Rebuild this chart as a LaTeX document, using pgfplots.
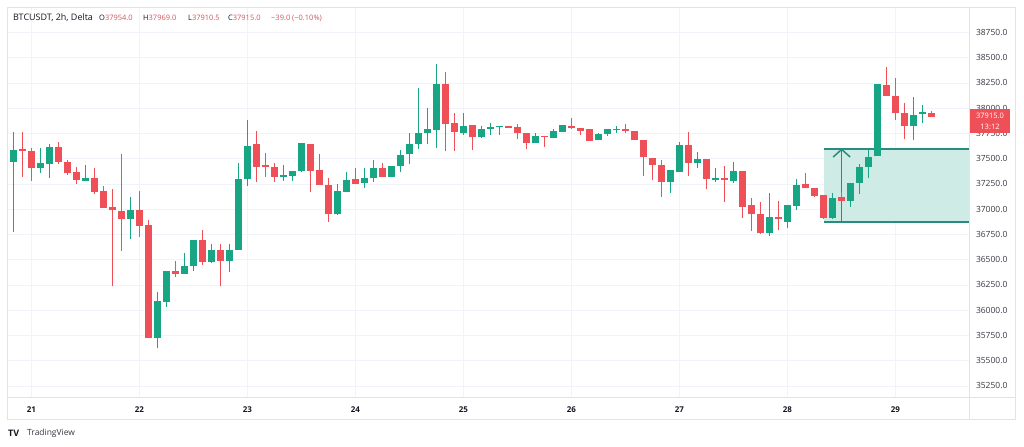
\documentclass[border=0pt]{standalone}
\usepackage{pgfplots}
\pgfplotsset{compat=1.18}
\usepackage{pgfplotstable}
\usepackage{fontspec}
\setmainfont{Open Sans}
\definecolor{tvgreen}{HTML}{17A584}
\definecolor{tvred}{HTML}{EF5058}
\definecolor{tvtext}{HTML}{131722}
\definecolor{tvframe}{HTML}{E0E3EB}
\definecolor{tvgrid}{HTML}{F0F3FA}
\definecolor{rngfill}{HTML}{CFEBE5}
\definecolor{rngline}{HTML}{2A8C7E}
\definecolor{hdrred}{HTML}{D0555B}

% up (green) candles: index open high low close
\pgfplotstableread{
i o h l c
0 37464 37768 36778 37586
3 37405 37610 37362 37454
4 37444 37646 37306 37616
8 37280 37435 37280 37312
13 36903 37121 36705 36989
16 35725 36177 35623 36092
17 36085 36385 36035 36385
19 36359 36563 36359 36441
20 36441 36699 36392 36699
22 36481 36656 36464 36600
24 36487 36656 36375 36600
25 36593 37454 36593 37299
26 37296 37883 37230 37629
30 37316 37438 37280 37339
31 37332 37382 37280 37382
32 37382 37652 37372 37652
36 36950 37247 36943 37181
37 37174 37372 37174 37289
39 37256 37405 37214 37306
40 37306 37487 37273 37405
42 37322 37428 37322 37428
43 37428 37586 37365 37537
44 37544 37751 37444 37642
45 37642 38197 37596 37758
46 37751 38005 37642 37791
47 37784 38435 37610 38240
50 37751 37949 37735 37827
52 37718 37827 37702 37794
53 37794 37850 37735 37811
54 37811 37827 37735 37827
58 37652 37751 37652 37725
60 37702 37791 37702 37775
61 37768 37834 37768 37834
65 37685 37758 37685 37745
66 37741 37791 37725 37791
67 37781 37824 37758 37794
73 37273 37388 37164 37388
74 37372 37666 37372 37633
76 37454 37563 37405 37494
78 37289 37405 37273 37306
80 37283 37471 37256 37379
84 36761 37157 36735 36926
86 36877 37042 36811 37042
87 37035 37296 36992 37240
91 36917 37157 36900 37114
93 37085 37256 37025 37256
94 37256 37448 37151 37415
95 37415 37586 37306 37520
96 37530 38237 37530 38237
100 37824 38108 37685 37933
101 37940 38032 37850 37959
}\up

% down (red) candles: index open high low close
\pgfplotstableread{
i o h l c
1 37600 37768 37316 37573
2 37577 37603 37283 37405
5 37616 37669 37444 37471
6 37468 37487 37339 37362
7 37369 37421 37250 37286
9 37312 37411 37147 37174
10 37181 37230 37016 37016
11 37019 37200 36243 36989
12 36983 37543 36590 36907
14 36989 37181 36728 36834
15 36844 36893 35725 35725
18 36392 36484 36332 36359
21 36692 36791 36451 36478
23 36600 36656 36243 36484
27 37642 37775 37273 37421
28 37438 37553 37316 37418
29 37421 37454 37273 37322
33 37646 37646 37167 37382
34 37388 37550 37240 37240
35 37240 37306 36877 36950
38 37296 37405 37250 37250
41 37411 37454 37322 37322
48 38237 38362 37577 37844
49 37857 37949 37577 37761
51 37834 37834 37586 37718
55 37827 37827 37808 37808
56 37811 37844 37692 37751
57 37751 37751 37593 37652
59 37728 37728 37619 37712
62 37824 37900 37791 37801
63 37801 37801 37732 37778
64 37791 37791 37679 37679
68 37798 37844 37758 37775
69 37771 37771 37685 37685
70 37685 37685 37329 37520
71 37510 37510 37289 37435
72 37438 37487 37124 37273
75 37636 37765 37329 37454
77 37494 37494 37197 37303
79 37309 37431 37075 37286
81 37379 37379 36910 37025
82 37039 37108 36784 36950
83 36953 37075 36755 36761
85 36926 37085 36794 36900
88 37250 37355 37207 37207
89 37207 37207 37124 37131
90 37141 37141 36900 36917
92 37118 37174 37085 37085
97 38230 38405 38121 38121
98 38121 38296 37883 37949
99 37956 38055 37692 37824
102 37954 37969 37910.5 37915
}\down

\begin{document}
\begin{tikzpicture}[x=1bp,y=1bp]
\path[use as bounding box] (0,0) rectangle (1024,447);
\fill[white] (0,0) rectangle (1024,447);
\begin{axis}[
  at={(7bp,50bp)}, anchor=south west,
  width=962bp, height=390bp, scale only axis,
  xmin=-0.7, xmax=106.19, ymin=35141, ymax=39002,
  axis line style={draw=none},
  major tick length=0pt,
  xtick={2,14,26,38,50,62,74,86,98},
  xticklabels={21,22,23,24,25,26,27,28,29},
  x tick label style={font=\fontsize{8}{9}\selectfont\bfseries, text=tvtext, yshift=-6bp},
  ytick={35250,35500,...,38750},
  scaled y ticks=false,
  yticklabel pos=right,
  /pgf/number format/assume math mode=true,
  y tick label style={font=\fontsize{8.5}{9}\selectfont, text=tvtext!85, anchor=west, xshift=3.5bp,
    /pgf/number format/fixed, /pgf/number format/fixed zerofill,
    /pgf/number format/precision=1, /pgf/number format/1000 sep={}},
  grid=major, major grid style={tvgrid, line width=0.8bp},
  clip=true,
  candle/.style={mark=none, draw=none, forget plot,
    error bars/y dir=plus, error bars/y explicit, error bars/error mark=none},
]
% price range drawing
\fill[rngfill] (axis cs:90.08,36876) rectangle (axis cs:106.19,37592);
\draw[rngline, line width=2bp] (axis cs:90.08,37592) -- (axis cs:106.19,37592);
\draw[rngline, line width=2bp] (axis cs:90.08,36876) -- (axis cs:106.19,36876);
\draw[rngline, line width=1.5bp] (axis cs:92.04,36876) -- (axis cs:92.04,37592);
\draw[rngline, line width=1.5bp] (axis cs:91.1,37517) -- (axis cs:92.04,37592) -- (axis cs:92.98,37517);
% wicks
\addplot[candle, error bars/error bar style={draw=tvgreen, line width=1bp}]
  table[x=i, y=l, y error expr=\thisrow{h}-\thisrow{l}] {\up};
\addplot[candle, error bars/error bar style={draw=tvred, line width=1bp}]
  table[x=i, y=l, y error expr=\thisrow{h}-\thisrow{l}] {\down};
% bodies
\addplot[candle, error bars/error bar style={draw=tvgreen, line width=6.5bp}]
  table[x=i, y=o, y error expr=\thisrow{c}-\thisrow{o}] {\up};
\addplot[candle, error bars/error bar style={draw=tvred, line width=6.5bp}]
  table[x=i, y=c, y error expr=\thisrow{o}-\thisrow{c}] {\down};
\end{axis}
% frames
\draw[tvframe, line width=0.8bp] (7,28) rectangle (1015,440);
\draw[tvframe, line width=0.8bp] (7,50) -- (1015,50);
\draw[tvframe, line width=0.8bp] (969,28) -- (969,440);
% last price box
\fill[tvred] (970,314) rectangle (1010,338);
\node[font=\fontsize{7.5}{8}\selectfont, text=white] at (990,331) {37915.0};
\node[font=\fontsize{7.5}{8}\selectfont, text=white] at (990,320) {13:12};
% header
\begin{scope}[every node/.style={anchor=base west, inner sep=0pt, font=\fontsize{7.5}{9}\selectfont}]
\node[text=tvtext, font=\fontsize{9}{10}\selectfont] at (13,426) {BTCUSDT, 2h, Delta};
\node at (99,426) {\textcolor{tvtext}{O}\textcolor{hdrred}{37954.0}};
\node at (143,426) {\textcolor{tvtext}{H}\textcolor{hdrred}{37969.0}};
\node at (188,426) {\textcolor{tvtext}{L}\textcolor{hdrred}{37910.5}};
\node at (228,426) {\textcolor{tvtext}{C}\textcolor{hdrred}{37915.0}};
\node[text=hdrred] at (271,426) {−39.0 (−0.10\%)};
\end{scope}
% TradingView logo
\node[anchor=west, inner sep=0pt, font=\fontsize{9}{10}\selectfont\bfseries, text=tvtext] at (8,14) {TV};
\node[anchor=west, inner sep=0pt, font=\fontsize{8.5}{10}\selectfont, text=tvtext!85] at (27,14) {TradingView};
\end{tikzpicture}
\end{document}
